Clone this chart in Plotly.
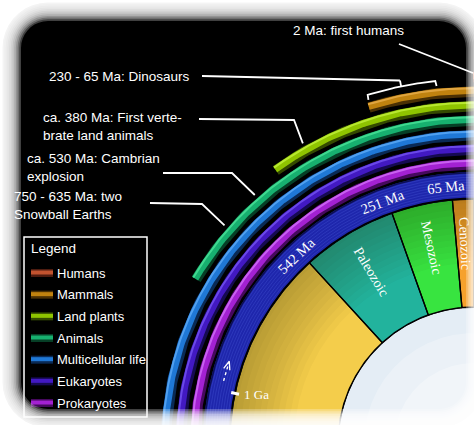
import numpy as np
import plotly.graph_objects as go

# ---------------- data ----------------
era_names = ["Cenozoic", "Mesozoic", "Paleozoic", "Proterozoic"]
era_from = [0, 65, 251, 542]            # Ma, younger edge
era_to = [65, 251, 542, 2500]           # Ma, older edge
era_colors = ["#f6a12c", "#38e440", "#22b39d", "#f4cd4b"]
era_labelled = [True, True, True, False]

boundary_text = ["542 Ma", "251 Ma", "65 Ma"]
boundary_ma = [542, 251, 65]
tick_text = ["1 Ga"]
tick_ma = [1000]

life_names = ["Humans", "Mammals", "Land plants", "Animals",
              "Multicellular life", "Eukaryotes", "Prokaryotes"]
life_origin = [2, 222, 460, 760, 1400, 2100, 3800]   # Ma
life_color = ["#c2532f", "#c0820f", "#8fc400", "#17b06f", "#1f78d6", "#4219c2", "#a321d2"]
life_dark = ["#4e1c10", "#4a3004", "#344a00", "#063f26", "#0a2a55", "#160a52", "#46095e"]
life_light = ["#e07a55", "#e0a540", "#b8e830", "#40d890", "#50a0f0", "#6a48e8", "#c860f0"]

event_text = ["2 Ma: first humans",
              "230 - 65 Ma: Dinosaurs",
              "ca. 380 Ma: First verte-<br>brate land animals",
              "ca. 530 Ma: Cambrian<br>explosion",
              "750 - 635 Ma: two<br>Snowball Earths"]
event_ma = [2, 147.5, 380, 530, 625]
dino_range = [230, 65]

# ---------------- geometry / style ----------------
W, H = 474, 425
CX, CY = 474.0, 443.0          # clock centre (axis units = px)
MA_TURN = 4600.0
R_IN, R_ERA, R_BAND = 136, 244, 271
R_RING0, RING_STEP = 279, 14.5
SANS = "Liberation Sans, Arial, sans-serif"
SERIF = "Liberation Serif, Times New Roman, serif"
VIEW_MA = 1400


def deg(ma):
    return np.asarray(ma, float) / MA_TURN * 360.0


def pol(r, ma):
    t = np.deg2rad(deg(ma))
    return CX - r * np.sin(t), CY - r * np.cos(t)


def arc(r, ma0, ma1, step=0.4):
    n = max(2, int(abs(deg(ma1) - deg(ma0)) / step) + 1)
    m = np.linspace(ma0, ma1, n)
    return pol(r, m)


fig = go.Figure()


def add_poly(x, y, fill, line_color="rgba(0,0,0,0)", lw=0):
    fig.add_trace(go.Scatter(x=list(x), y=list(y), mode="lines", fill="toself",
                             fillcolor=fill, line=dict(color=line_color, width=lw),
                             hoverinfo="skip", showlegend=False))


def add_line(x, y, color, lw, dash=None):
    fig.add_trace(go.Scatter(x=list(x), y=list(y), mode="lines",
                             line=dict(color=color, width=lw, dash=dash),
                             hoverinfo="skip", showlegend=False))


def band(r0, r1, ma0, ma1):
    xo, yo = arc(r1, ma0, ma1)
    xi, yi = arc(r0, ma1, ma0)
    return np.concatenate([xo, xi, xo[:1]]), np.concatenate([yo, yi, yo[:1]])


# inner disc
xc, yc = arc(R_IN, -2300, 2300, 0.5)
add_poly(xc, yc, "#e4edf5", "black", 1.6)
for rr, al in [(110, 0.25), (80, 0.3)]:
    xc, yc = arc(rr, -2300, 2300, 0.5)
    add_poly(xc, yc, "rgba(255,255,255,%.2f)" % al)

# era segments
for a, b, c in zip(era_from, era_to, era_colors):
    x, y = band(R_IN, R_ERA, a, min(b, VIEW_MA))
    add_poly(x, y, c)
# outer shading of era ring (soft radial gradient)
for r0 in np.arange(180, 244, 6):
    x, y = band(r0, R_ERA, -30, VIEW_MA)
    add_poly(x, y, "rgba(40,25,0,0.028)")
# separators
for a, b in zip(era_from, era_to):
    x, y = band(R_IN, R_ERA, a, min(b, VIEW_MA))
    add_line(x, y, "black", 1.3)

# labelled band
x, y = band(R_ERA, R_BAND, -30, VIEW_MA)
add_poly(x, y, "#1e26ac")
for rr in np.arange(247.5, 270, 2.6):
    xa, ya = arc(rr, -30, VIEW_MA)
    add_line(xa, ya, "rgba(90,110,235,0.35)", 0.7)
xa, ya = arc(R_BAND - 0.8, -30, VIEW_MA)
add_line(xa, ya, "#0c0f55", 1.6)
xa, ya = arc(R_ERA + 0.5, -30, VIEW_MA)
add_line(xa, ya, "black", 1.8)

# life rings
n_life = len(life_names)
for j in range(n_life):
    r = R_RING0 + RING_STEP * (n_life - 1 - j)
    end = min(life_origin[j], VIEW_MA)
    xa, ya = arc(r, 0, end)
    add_line(xa, ya, life_dark[j], 10.5)
    xa, ya = arc(r + 1.2, 0, end)
    add_line(xa, ya, life_color[j], 7)
    xa, ya = arc(r + 3.3, 0, end)
    add_line(xa, ya, life_light[j], 2.0)

# dashed direction arrow in band
xa, ya = arc(258, 972, 918)
add_line(xa, ya, "white", 1.4, "dot")
tip = np.array(pol(258, 914))
back = np.array(pol(258, 938))
t_r = np.deg2rad(deg(938))
nrm = np.array([-np.sin(t_r), -np.cos(t_r)])
p1, p2 = back + 3.2 * nrm, back - 3.2 * nrm
add_line([p1[0], tip[0], p2[0]], [p1[1], tip[1], p2[1]], "white", 1.3)

# tick 1 Ga
for tm in tick_ma:
    xt, yt = [pol(240, tm)[0], pol(248, tm)[0]], [pol(240, tm)[1], pol(248, tm)[1]]
    add_line(xt, yt, "white", 3)

# leader lines
LW = 1.8
elbows = [[(399, 44)], [(202, 76)], [(199, 119), (294, 120)],
          [(163, 173), (232, 173)], [(150, 203), (202, 204)]]
end_r = [370, 370, 345, 331, 331]
for el, ma, rr in zip(elbows, event_ma, end_r):
    ex, ey = pol(rr, ma)
    xs = [p[0] for p in el] + [float(ex)]
    ys = [p[1] for p in el] + [float(ey)]
    add_line(xs, ys, "white", LW)

# dinosaur brace
d0, d1 = dino_range[0] - 13, dino_range[1] + 13
mid = event_ma[1]
hx0, hy0 = pol(359, d0 + 1.5)
ax1, ay1 = arc(364, d0, d1)
hx1, hy1 = pol(359, d1 - 1.5)
add_line([float(hx0)] + list(ax1) + [float(hx1)], [float(hy0)] + list(ay1) + [float(hy1)], "white", LW)
mx0, my0 = pol(364, mid)
mx1, my1 = pol(370, mid)
add_line([mx0, mx1], [my0, my1], "white", LW)

annotations = []
# era labels
for nm, a, b, show in zip(era_names, era_from, era_to, era_labelled):
    if not show:
        continue
    m = (a + b) / 2
    px, py = pol(200, m)
    annotations.append(dict(x=float(px), y=float(py), text=nm, showarrow=False,
                            textangle=float(90 - deg(m)),
                            font=dict(family=SERIF, size=14, color="white")))
# boundary labels
for t, m in zip(boundary_text, boundary_ma):
    mm = m + 15
    px, py = pol(258, mm)
    annotations.append(dict(x=float(px), y=float(py), text=t, showarrow=False,
                            textangle=float(-deg(mm)),
                            font=dict(family=SERIF, size=14.5, color="white")))
for t, m in zip(tick_text, tick_ma):
    px, py = pol(237, m)
    annotations.append(dict(x=float(px), y=float(py), text=t, showarrow=False,
                            xanchor="left",
                            font=dict(family=SERIF, size=13, color="white")))
# event texts
text_pos = [(291, 30), (47, 76), (41, 126.5), (25, 167), (12, 205)]
for t, (px, py) in zip(event_text, text_pos):
    annotations.append(dict(x=px, y=py, text=t, showarrow=False, xanchor="left",
                            align="left", font=dict(family=SANS, size=13.5, color="white")))

# legend (drawn manually)
shapes = []
shapes.append(dict(type="rect", x0=24, y0=237, x1=147, y1=417, xref="x", yref="y",
                   line=dict(color="white", width=1.5), layer="above"))
annotations.append(dict(x=29, y=248, text="Legend", showarrow=False, xanchor="left",
                        font=dict(family=SANS, size=13.5, color="white")))
for j, nm in enumerate(life_names):
    yy = 273 + 21.67 * j
    shapes.append(dict(type="rect", x0=31, x1=53, y0=yy - 4, y1=yy + 4, xref="x", yref="y",
                       fillcolor=life_dark[j], line=dict(width=0), layer="above"))
    shapes.append(dict(type="rect", x0=31, x1=53, y0=yy - 2.5, y1=yy + 1.5, xref="x", yref="y",
                       fillcolor=life_color[j], line=dict(width=0), layer="above"))
    annotations.append(dict(x=55, y=yy, text=nm, showarrow=False, xanchor="left",
                            font=dict(family=SANS, size=13, color="white")))


# white vignette frame
def rrect_path(x0, y0, x1, y1, r, n=10):
    pts = []
    corners = [(x1 - r, y0 + r, -90, 0), (x1 - r, y1 - r, 0, 90),
               (x0 + r, y1 - r, 90, 180), (x0 + r, y0 + r, 180, 270)]
    for cx, cy, a0, a1 in corners:
        for a in np.linspace(a0, a1, n):
            pts.append((cx + r * np.cos(np.deg2rad(a)), cy + r * np.sin(np.deg2rad(a))))
    return "M " + " L ".join("%.2f,%.2f" % p for p in pts) + " Z"


outer = "M -40,-40 L 520,-40 L 520,470 L -40,470 Z "
SX0, SY0, SX1, SY1, SR = 22, 22, 465, 408, 26
for k in range(11):
    d = 1.0 + 1.7 * k
    shapes.append(dict(type="path", xref="x", yref="y", layer="above",
                       path=outer + rrect_path(SX0 - d, SY0 - d, SX1 + d, SY1 + d, SR + d),
                       fillcolor="white", opacity=0.25, line=dict(width=0), fillrule="evenodd"))
d = 19.5
shapes.append(dict(type="path", xref="x", yref="y", layer="above",
                   path=outer + rrect_path(SX0 - d, SY0 - d, SX1 + d, SY1 + d, SR + d),
                   fillcolor="white", line=dict(width=0), fillrule="evenodd"))

fig.update_layout(
    width=W, height=H, margin=dict(l=0, r=0, t=0, b=0),
    paper_bgcolor="white", plot_bgcolor="black",
    xaxis=dict(range=[0, W], visible=False, fixedrange=True),
    yaxis=dict(range=[H, 0], visible=False, fixedrange=True),
    shapes=shapes, annotations=annotations, showlegend=False,
)
fig.write_html("out.html", config={"displayModeBar": False},
               post_script="document.body.style.margin='0';document.body.style.overflow='hidden';")
